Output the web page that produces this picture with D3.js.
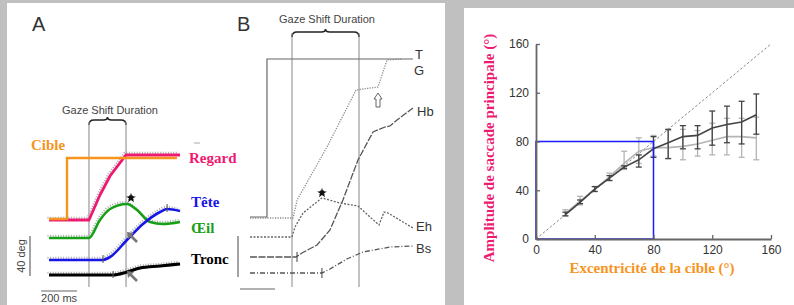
<!DOCTYPE html>
<html><head><meta charset="utf-8">
<script src="https://cdn.jsdelivr.net/npm/d3@7"></script>
<style>html,body{margin:0;padding:0;background:#c0c0c0;}svg{display:block;}</style>
</head><body>
<svg id="chart" width="794" height="305"></svg>
<script>
// ---------- Panel A traces: [time (ms), position (deg)] ----------
const traceCible  = [[0,61],[100,61],[100,122],[711,122]];
const traceRegard = [[0,60],[222,60],[283,85],[339,104],[428,125],[728,125]];
const traceOeil   = [[0,42],[222,42],[283,60],[339,71],[433,76],[489,70],[561,58],[633,56],[728,58]];
const traceTete   = [[0,20],[294,20],[339,23],[433,40],[522,56],[617,68],[656,71],[728,69]];
const traceTronc  = [[0,5],[356,5],[433,8],[506,12],[617,14],[728,16]];
const gazeShiftA  = [222,428];
const labelsA     = ["Cible","Regard","Tête","Œil","Tronc"];

// ---------- Panel B traces ----------
const traceT  = [[0,63],[97,63],[97,221],[931,221]];
const traceG  = [[0,62],[246,62],[269,80],[440,133],[606,190],[731,193],[783,220],[869,221]];
const traceEh = [[0,43],[240,43],[257,53],[303,67],[411,82],[514,77],[617,74],[686,63],[737,55],[766,68],[789,67],[931,52]];
const traceHb = [[0,23],[263,23],[297,27],[383,35],[457,50],[531,80],[617,120],[703,148],[771,153],[800,154],[840,160],[931,172]];
const traceBs = [[0,7],[411,7],[457,11],[554,21],[646,28],[800,33],[931,34]];
const gazeShiftB = [240,623];
const labelsB = ["T","G","Hb","Eh","Bs"];

// ---------- Right chart ----------
const eccentricity = [20,30,40,50,60,70,80,90,100,110,120,130,140,150];
const darkMean  = [20,30,41,50,59,65,74,79,84,85,91,94,96,102];
const darkHigh  = [22,32,43,52,60,69,84,90,93,93,105,109,113,119];
const darkLow   = [19,29,39,48,58,59,67,66,74,74,77,79,78,86];
const lightMean = [21,31,41,51,62,72,75,75,76,78,81,84,84,83];
const lightHigh = [24,35,43,54,72,83,85,89,90,89,95,99,99,100];
const lightLow  = [19,28,39,48,57,62,68,66,65,68,69,69,67,65];
const axisTicks = [0,40,80,120,160];
const xTitle = "Excentricité de la cible (°)";
const yTitle = "Amplitude de saccade principale (°)";

const svg = d3.select("#chart");
const SERIF = "'Liberation Serif','Times New Roman',serif";
const SANS = "'Liberation Sans',Arial,sans-serif";
const PINK="#ee1a72", ORANGE="#f7941d", BLUE="#1616e6", GREEN="#17a017";

// panels
svg.append("rect").attr("x",7).attr("y",3).attr("width",438).attr("height",302).attr("fill","#fff");
svg.append("rect").attr("x",464).attr("y",8).attr("width",330).attr("height",297).attr("fill","#fff");

// ===== Panel A =====
const xA = d3.scaleLinear().domain([0,200]).range([49,85]);
const yA = d3.scaleLinear().domain([0,40]).range([280,240]);
const gA = svg.append("g");
gA.append("text").attr("x",32).attr("y",31).attr("font-family",SANS).attr("font-size",20).attr("fill","#333").text("A");
gA.append("text").attr("x",110).attr("y",114).attr("text-anchor","middle").attr("font-family",SANS).attr("font-size",11).attr("fill","#444").text("Gaze Shift Duration");
function brace(g,x1,x2,y){
  const m=(x1+x2)/2;
  g.append("path").attr("d",`M${x1},${y+5} Q${x1},${y} ${x1+5},${y} L${m-4},${y} Q${m},${y} ${m},${y-3} Q${m},${y} ${m+4},${y} L${x2-5},${y} Q${x2},${y} ${x2},${y+5}`)
   .attr("fill","none").attr("stroke","#222").attr("stroke-width",1.6);
}
brace(gA,xA(gazeShiftA[0]),xA(gazeShiftA[1]),120);
gazeShiftA.forEach(t=>gA.append("line").attr("x1",xA(t)).attr("x2",xA(t)).attr("y1",122).attr("y2",287).attr("stroke","#999").attr("stroke-width",1.2));

const lineA = d3.line().x(d=>xA(d[0])).y(d=>yA(d[1]));
const smoothA = d3.line().x(d=>xA(d[0])).y(d=>yA(d[1])).curve(d3.curveMonotoneX);
// gray dotted originals
[[traceRegard,lineA],[traceOeil,smoothA],[traceTete,smoothA],[traceTronc,smoothA]].forEach(([tr,ln])=>{
  gA.append("path").attr("d",ln(tr)).attr("transform","translate(-1.5,-2.2)").attr("fill","none")
    .attr("stroke","#a8a8a8").attr("stroke-width",2).attr("stroke-dasharray","1,1.6");
});
gA.append("path").attr("d",lineA(traceRegard)).attr("fill","none").attr("stroke",PINK).attr("stroke-width",2.8);
gA.append("path").attr("d",lineA(traceCible)).attr("fill","none").attr("stroke",ORANGE).attr("stroke-width",2.4);
gA.append("path").attr("d",smoothA(traceOeil)).attr("fill","none").attr("stroke",GREEN).attr("stroke-width",2.6);
gA.append("path").attr("d",smoothA(traceTete)).attr("fill","none").attr("stroke",BLUE).attr("stroke-width",2.6);
gA.append("path").attr("d",smoothA(traceTronc)).attr("fill","none").attr("stroke","#000").attr("stroke-width",3.2);
// tick marks
[[300,20],[656,71]].forEach(d=>gA.append("line").attr("x1",xA(d[0])).attr("x2",xA(d[0])).attr("y1",yA(d[1])-5).attr("y2",yA(d[1])+3).attr("stroke","#555").attr("stroke-width",1));
gA.append("line").attr("x1",xA(356)).attr("x2",xA(356)).attr("y1",yA(5)-4).attr("y2",yA(5)+3).attr("stroke","#555").attr("stroke-width",1);
// arrows
function grayArrow(g,x,y){
  g.append("line").attr("x1",x+8).attr("y1",y+8).attr("x2",x+1).attr("y2",y+1).attr("stroke","#777").attr("stroke-width",2.6);
  g.append("path").attr("d",`M${x-2},${y-2} L${x+5},${y-1} L${x-1},${y+5} Z`).attr("fill","#777");
}
grayArrow(gA,129,234);
grayArrow(gA,129,273);
function star(g,x,y,r){
  g.append("path").attr("d",d3.symbol().type(d3.symbolStar).size(r)()).attr("transform",`translate(${x},${y})`).attr("fill","#111");
  g.append("path").attr("d",d3.symbol().type(d3.symbolCross).size(r*0.6)()).attr("transform",`translate(${x},${y}) rotate(45)`).attr("fill","#111");
}
star(gA,131,198,30);
gA.append("line").attr("x1",194).attr("x2",200).attr("y1",143).attr("y2",143).attr("stroke","#aaa").attr("stroke-width",1);
// labels
const labA = [[labelsA[0],31,150,ORANGE],[labelsA[1],189,163,PINK],[labelsA[2],191,207,BLUE],[labelsA[3],191,233,GREEN],[labelsA[4],191,264,"#000"]];
labA.forEach(l=>gA.append("text").attr("x",l[1]).attr("y",l[2]).attr("font-family",SERIF).attr("font-weight","bold").attr("font-size",15).attr("fill",l[3]).text(l[0]));
// scale bars
gA.append("line").attr("x1",30).attr("x2",30).attr("y1",yA(44)).attr("y2",yA(4)).attr("stroke","#666").attr("stroke-width",1.2);
gA.append("text").attr("transform",`translate(25,${yA(24)}) rotate(-90)`).attr("text-anchor","middle").attr("font-family",SANS).attr("font-size",11).attr("fill","#444").text("40 deg");
gA.append("line").attr("x1",xA(-44)).attr("x2",xA(156)).attr("y1",291).attr("y2",291).attr("stroke","#666").attr("stroke-width",1.2);
gA.append("text").attr("x",xA(56)).attr("y",302).attr("text-anchor","middle").attr("font-family",SANS).attr("font-size",11).attr("fill","#444").text("200 ms");

// ===== Panel B =====
const xB = d3.scaleLinear().domain([0,200]).range([250,285]);
const yB = d3.scaleLinear().domain([0,40]).range([280,240]);
const gB = svg.append("g");
gB.append("text").attr("x",237).attr("y",31).attr("font-family",SANS).attr("font-size",20).attr("fill","#333").text("B");
gB.append("text").attr("x",327).attr("y",23).attr("text-anchor","middle").attr("font-family",SANS).attr("font-size",11).attr("fill","#444").text("Gaze Shift Duration");
brace(gB,xB(gazeShiftB[0]),xB(gazeShiftB[1]),32);
gazeShiftB.forEach(t=>gB.append("line").attr("x1",xB(t)).attr("x2",xB(t)).attr("y1",33).attr("y2",287).attr("stroke","#888").attr("stroke-width",1));
const lineB = d3.line().x(d=>xB(d[0])).y(d=>yB(d[1]));
gB.append("path").attr("d",lineB(traceT)).attr("fill","none").attr("stroke","#666").attr("stroke-width",1.2);
gB.append("path").attr("d",lineB(traceG)).attr("fill","none").attr("stroke","#888").attr("stroke-width",1.3).attr("stroke-dasharray","1.2,1.3");
gB.append("path").attr("d",lineB(traceEh)).attr("fill","none").attr("stroke","#666").attr("stroke-width",1.3).attr("stroke-dasharray","2,1.5");
gB.append("path").attr("d",lineB(traceHb)).attr("fill","none").attr("stroke","#555").attr("stroke-width",1.3).attr("stroke-dasharray","7,1.5");
gB.append("path").attr("d",lineB(traceBs)).attr("fill","none").attr("stroke","#555").attr("stroke-width",1.3).attr("stroke-dasharray","5,2,1,2");
gB.append("line").attr("x1",xB(263)+1).attr("x2",xB(263)+1).attr("y1",yB(23)-5).attr("y2",yB(23)+5).attr("stroke","#444").attr("stroke-width",1);
gB.append("line").attr("x1",xB(411)).attr("x2",xB(411)).attr("y1",yB(7)-5).attr("y2",yB(7)+5).attr("stroke","#444").attr("stroke-width",1);
// hollow arrow
gB.append("path").attr("d","M378,93 L382,99 L380,99 L380,107 L376,107 L376,99 L374,99 Z").attr("fill","#fff").attr("stroke","#666").attr("stroke-width",1);
star(gB,322,193,30);
const labB = [[labelsB[0],419,59],[labelsB[1],419,75],[labelsB[2],417,116],[labelsB[3],416,231],[labelsB[4],416,253]];
labB.forEach(l=>gB.append("text").attr("x",l[1]).attr("y",l[2]).attr("text-anchor", l[0].length===1?"middle":"start").attr("font-family",SANS).attr("font-size",13).attr("fill","#333").text(l[0]));
gB.append("line").attr("x1",238).attr("x2",238).attr("y1",yB(44)).attr("y2",yB(3)).attr("stroke","#666").attr("stroke-width",1.2);
gB.append("line").attr("x1",xB(-57)).attr("x2",xB(143)).attr("y1",289).attr("y2",289).attr("stroke","#666").attr("stroke-width",1.2);

// ===== Right chart =====
const x = d3.scaleLinear().domain([0,160]).range([536,771]);
const y = d3.scaleLinear().domain([0,160]).range([239,44]);
const gR = svg.append("g");
gR.append("line").attr("x1",x(0)).attr("y1",y(0)).attr("x2",x(160)).attr("y2",y(160)).attr("stroke","#888").attr("stroke-width",1).attr("stroke-dasharray","2.5,2");
const series = [
  {mean:lightMean, hi:lightHigh, lo:lightLow, color:"#b4b4b4"},
  {mean:darkMean, hi:darkHigh, lo:darkLow, color:"#444"}
];
series.forEach(s=>{
  const pts = eccentricity.map((e,i)=>({e, m:s.mean[i], h:s.hi[i], l:s.lo[i]}));
  const g = gR.append("g");
  g.selectAll(".eb").data(pts).join("line").attr("x1",d=>x(d.e)).attr("x2",d=>x(d.e)).attr("y1",d=>y(d.h)).attr("y2",d=>y(d.l)).attr("stroke",s.color).attr("stroke-width",1.3);
  g.selectAll(".ct").data(pts).join("line").attr("x1",d=>x(d.e)-3).attr("x2",d=>x(d.e)+3).attr("y1",d=>y(d.h)).attr("y2",d=>y(d.h)).attr("stroke",s.color).attr("stroke-width",1.3);
  g.selectAll(".cb").data(pts).join("line").attr("x1",d=>x(d.e)-3).attr("x2",d=>x(d.e)+3).attr("y1",d=>y(d.l)).attr("y2",d=>y(d.l)).attr("stroke",s.color).attr("stroke-width",1.3);
  g.append("path").attr("d",d3.line().x(d=>x(d.e)).y(d=>y(d.m))(pts)).attr("fill","none").attr("stroke",s.color).attr("stroke-width",1.6);
});
gR.append("rect").attr("x",x(0)).attr("y",y(80)).attr("width",x(80)-x(0)).attr("height",y(0)-y(80)).attr("fill","none").attr("stroke","#1a1aff").attr("stroke-width",1.5);
const ax = gR.append("g").attr("transform",`translate(0,${y(0)})`).call(d3.axisBottom(x).tickValues(axisTicks).tickSizeInner(-4).tickSizeOuter(0).tickPadding(6));
const ay = gR.append("g").attr("transform",`translate(${x(0)},0)`).call(d3.axisLeft(y).tickValues(axisTicks).tickSizeInner(-4).tickSizeOuter(0).tickPadding(7));
[ax,ay].forEach(a=>{
  a.select(".domain").attr("stroke","#666").attr("stroke-width",1.8);
  a.selectAll(".tick line").attr("stroke","#666").attr("stroke-width",1.3);
  a.selectAll(".tick text").attr("font-family",SANS).attr("font-size",12).attr("fill","#333");
});
gR.append("text").attr("x",652).attr("y",273).attr("text-anchor","middle").attr("font-family",SERIF).attr("font-weight","bold").attr("font-size",15).attr("fill",ORANGE).text(xTitle);
gR.append("text").attr("transform","translate(494,148) rotate(-90)").attr("text-anchor","middle").attr("font-family",SERIF).attr("font-weight","bold").attr("font-size",15).attr("fill",PINK).text(yTitle);
</script>
</body></html>
